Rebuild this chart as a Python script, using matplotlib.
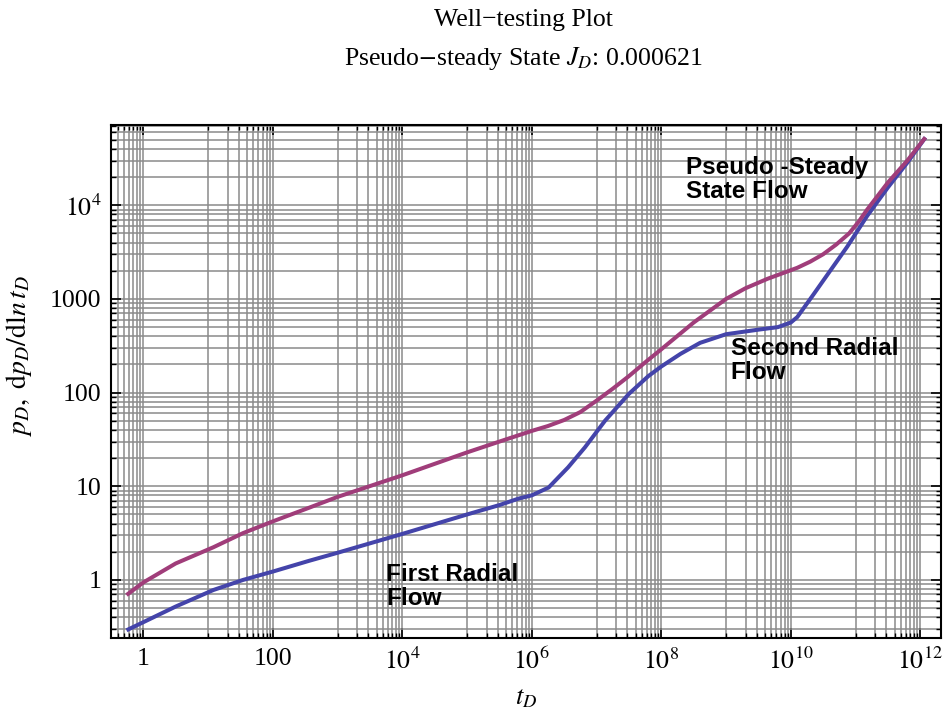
import numpy as np
import matplotlib
matplotlib.use('Agg')
from matplotlib import pyplot as plt
from matplotlib.ticker import FixedLocator, FuncFormatter, LogLocator, NullFormatter

plt.rcParams['font.family'] = ['Liberation Serif', 'DejaVu Serif']
plt.rcParams['mathtext.fontset'] = 'stix'

# dimensionless time (log10) and the two curves read along it
log_t_p = [-0.26, 0, 0.5, 1.08, 1.54, 2.02, 2.56, 3, 4, 5, 5.5, 6, 6.25,
           6.5, 6.75, 7, 7.25, 7.5, 7.75, 8, 8.5, 9, 9.3, 9.64, 10.1, 10.3,
           10.5, 10.7, 10.9, 11.05, 11.18, 11.5, 11.8, 12.08]
p_d = [0.69, 0.94, 1.5, 2.23, 3.16, 4.27, 5.9, 7.7, 13.1, 23, 30, 39, 44,
       51, 62, 82, 110, 150, 210, 290, 560, 1000, 1300, 1640, 2150, 2500,
       3000, 3800, 5000, 6700, 9000, 17500, 30000, 53000]

log_t_dp = [-0.26, 0, 0.5, 1.08, 1.54, 2.02, 2.56, 3, 4, 5, 5.5, 5.8, 6,
            6.26, 6.56, 6.82, 7.13, 7.5, 7.8, 8, 8.3, 8.6, 9, 9.5, 9.8, 10.0,
            10.1, 10.36, 10.51, 10.87, 11.18, 11.5, 11.8, 12.08]
dp_d = [0.29, 0.354, 0.52, 0.78, 1.0, 1.24, 1.6, 1.95, 3.1, 5.0, 6.3, 7.4,
        8.0, 9.7, 15.9, 26, 50, 97, 150, 190, 260, 340, 420, 470, 500, 560,
        640, 1140, 1600, 3600, 7700, 15500, 28500, 53000]

j_d = 0.000621
regimes = ['Pseudo -Steady\nState Flow', 'Second Radial\nFlow',
           'First Radial\nFlow']
regime_t = [10**8.38, 10**9.07, 10**3.75]
regime_y = [10**4.53, 10**2.59, 10**0.18]

c_p = '#a03d7a'
c_dp = '#4444aa'

fig = plt.figure(figsize=(9.46, 7.17), dpi=100)
ax = fig.add_axes([0.1173, 0.1102, 0.8774, 0.7155])
ax.set_xscale('log')
ax.set_yscale('log')

ax.plot(10**np.array(log_t_dp), dp_d, c=c_dp, lw=2.9, solid_capstyle='butt',
        solid_joinstyle='round')
ax.plot(10**np.array(log_t_p), p_d, c=c_p, lw=2.9, solid_capstyle='butt',
        solid_joinstyle='round')

ax.set_xlim(10**-0.5, 10**12.32)
ax.set_ylim(0.24, 7.2e4)

# x: labels every two decades, fine lines only in the odd decades
x_major = [10.0**k for k in range(0, 13, 2)]
x_minor = [m * 10.0**k for k in range(-1, 13, 2) for m in range(1, 10)]
ax.xaxis.set_major_locator(FixedLocator(x_major))
ax.xaxis.set_minor_locator(FixedLocator(x_minor))
ax.yaxis.set_major_locator(LogLocator(base=10, numticks=20))
ax.yaxis.set_minor_locator(LogLocator(base=10, subs=np.arange(2, 10),
                                      numticks=20))


def fmt(v, pos):
    n = int(round(np.log10(v)))
    if n < 0:
        return ''
    if n <= 3:
        return f'{10**n:d}'
    return f'$10^{{{n}}}$'


ax.xaxis.set_major_formatter(FuncFormatter(fmt))
ax.yaxis.set_major_formatter(FuncFormatter(fmt))
ax.xaxis.set_minor_formatter(NullFormatter())
ax.yaxis.set_minor_formatter(NullFormatter())

ax.grid(True, which='both', color='#8a8a8a', lw=1.1)
ax.set_axisbelow(True)
ax.tick_params(which='both', direction='in', top=True, right=True,
               labelsize=18.5, color='black')
ax.tick_params(which='major', length=7, width=1.2, pad=7)
ax.tick_params(which='minor', length=3.5, width=1)
for s in ax.spines.values():
    s.set_linewidth(1.5)

for txt, tx, ty in zip(regimes, regime_t, regime_y):
    ax.text(tx, ty, txt, ha='left', va='top', fontsize=17.5,
            fontweight='bold', family=['Liberation Sans', 'DejaVu Sans'],
            linespacing=1.05)

ax.set_xlabel(r'$t_D$', fontsize=19, labelpad=10)
ax.set_ylabel(r'$p_D,\ \mathrm{d}p_D/\mathrm{dl}n\,t_D$', fontsize=20)
ax.yaxis.set_label_coords(-0.093, 0.55)

fig.text(0.553, 0.972, 'Well\u2212testing Plot', ha='center', va='center',
         fontsize=18.5)
fig.text(0.553, 0.918,
         r'Pseudo$-$steady State $J_D$: ' + f'{j_d:.6f}',
         ha='center', va='center', fontsize=18.5)

fig.savefig('out.png', dpi=100)
